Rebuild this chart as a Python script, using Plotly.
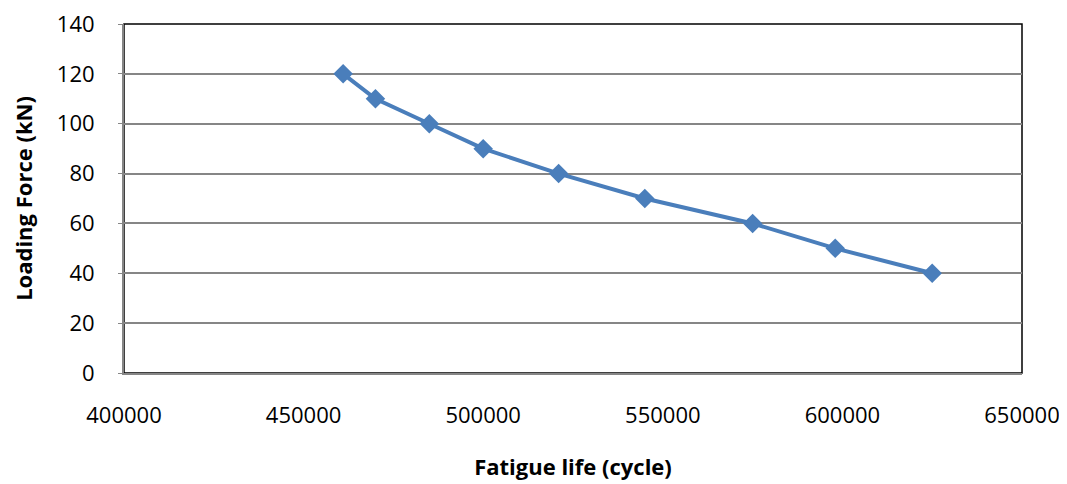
import plotly.graph_objects as go

fatigue_life = [461000, 470000, 485000, 500000, 521000, 545000, 575000, 598000, 625000]
loading_force = [120, 110, 100, 90, 80, 70, 60, 50, 40]

x_ticks = [400000, 450000, 500000, 550000, 600000, 650000]
y_ticks = [0, 20, 40, 60, 80, 100, 120, 140]

FONT = "Open Sans"
BLUE = "#4A7EBB"

fig = go.Figure()
fig.add_trace(go.Scatter(
    x=fatigue_life, y=loading_force, mode="lines+markers",
    line=dict(color=BLUE, width=4),
    marker=dict(symbol="diamond", size=15, color=BLUE),
    showlegend=False,
))

fig.add_shape(type="rect", xref="x domain", yref="y domain", x0=0, x1=1, y0=0, y1=1,
              line=dict(color="black", width=1.5), layer="below")

fig.update_layout(
    width=1067, height=484,
    margin=dict(l=116, r=53, t=16, b=119, autoexpand=False),
    paper_bgcolor="white", plot_bgcolor="white",
    font=dict(family=FONT, color="black", size=20),
)
fig.update_xaxes(
    range=[400000, 650000], tickvals=x_ticks, ticktext=[str(v) for v in x_ticks],
    showgrid=False, zeroline=False, showline=True, linecolor="#868686", linewidth=2,
    ticks="outside", ticklen=22, tickcolor="rgba(0,0,0,0)",
    ticklabeloverflow="allow",
    tickfont=dict(size=22, family=FONT),
    title=dict(text="<b>Fatigue life (cycle)</b>", font=dict(size=22, family=FONT), standoff=31),
)
fig.update_yaxes(
    range=[0, 140], tickvals=y_ticks,
    showgrid=True, gridcolor="#868686", gridwidth=1.5, zeroline=False,
    showline=True, linecolor="#868686", linewidth=2,
    ticks="outside", ticklen=4, tickcolor="#868686",
    ticklabelstandoff=19, ticklabeloverflow="allow",
    tickfont=dict(size=22, family=FONT),
    title=dict(text="<b>Loading Force (kN)</b>", font=dict(size=22, family=FONT), standoff=20),
)

fig.write_html("out.html")
